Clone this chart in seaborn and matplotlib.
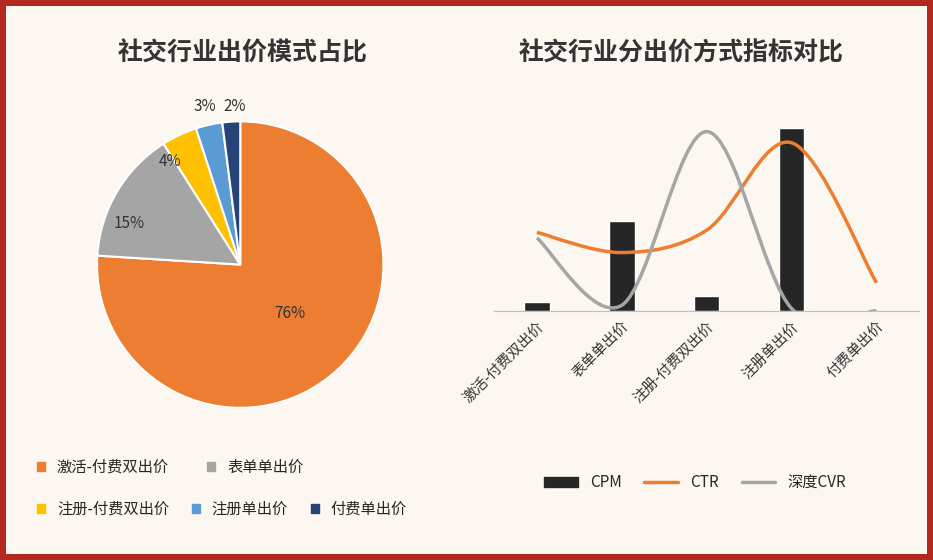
import matplotlib
matplotlib.use("Agg")
import matplotlib.pyplot as plt
import seaborn as sns
import numpy as np
from matplotlib.path import Path
from matplotlib.patches import PathPatch, Rectangle
from matplotlib.lines import Line2D

sns.set_style("white")
plt.rcParams["font.family"] = ["Noto Sans CJK SC", "DejaVu Sans"]

pie_labels = ["激活-付费双出价", "表单单出价", "注册-付费双出价", "注册单出价", "付费单出价"]
pie_values = [76, 15, 4, 3, 2]
pie_colors = ["#ED7D31", "#A5A5A5", "#FFC000", "#5B9BD5", "#264478"]

categories = ["激活-付费双出价", "表单单出价", "注册-付费双出价", "注册单出价", "付费单出价"]
cpm = [8, 80, 13, 163, 0]
ctr = [70, 52, 72, 150, 25]
cvr = [65, 5, 160, 2, 0]

bg = "#FCF7F0"
fig = plt.figure(figsize=(9.33, 5.6), dpi=100, facecolor="#B22A1E")
fig.patches.append(Rectangle((0.006, 0.01), 0.988, 0.98, transform=fig.transFigure,
                             facecolor=bg, edgecolor="none", zorder=-1))

# pie
ax1 = fig.add_axes([0.085, 0.255, 0.345, 0.545])
ax1.set_facecolor(bg)
wedges, texts = ax1.pie(pie_values, colors=pie_colors, startangle=90, counterclock=False, radius=1.22,
                        wedgeprops=dict(edgecolor="white", linewidth=1.5))
pos = {0: (0.42, -0.42), 1: (-0.95, 0.35), 2: (-0.6, 0.88), 3: (-0.3, 1.35), 4: (-0.05, 1.35)}
for i, v in enumerate(pie_values):
    ax1.text(*pos[i], f"{v}%", ha="center", va="center", fontsize=11, color="#333333")
ax1.set_xlim(-1.3, 1.3)
ax1.set_ylim(-1.3, 1.3)
ax1.set_aspect("equal")
fig.text(0.26, 0.905, "社交行业出价模式占比", ha="center", va="center", fontsize=18, fontweight="bold", color="#333333")
handles = [Rectangle((0, 0), 1, 1, color=c) for c in pie_colors]
fig.legend(handles[:2], pie_labels[:2], loc="center left", bbox_to_anchor=(0.025, 0.165), ncol=2,
           frameon=False, fontsize=11, handlelength=0.5, handleheight=0.5, columnspacing=2.5)
fig.legend(handles[2:], pie_labels[2:], loc="center left", bbox_to_anchor=(0.025, 0.09), ncol=3,
           frameon=False, fontsize=11, handlelength=0.5, handleheight=0.5, columnspacing=1.5)

# combo chart
ax2 = fig.add_axes([0.53, 0.445, 0.455, 0.36])
ax2.set_facecolor(bg)
x = np.arange(len(categories))
sns.barplot(x=categories, y=cpm, color="#262626", width=0.3, ax=ax2, saturation=1)

def smooth(ax, xs, ys, color, lw):
    pts = np.column_stack([xs, ys]).astype(float)
    verts = [pts[0]]
    codes = [Path.MOVETO]
    n = len(pts)
    for i in range(n - 1):
        p0 = pts[max(i - 1, 0)]; p1 = pts[i]; p2 = pts[i + 1]; p3 = pts[min(i + 2, n - 1)]
        c1 = p1 + (p2 - p0) / 6
        c2 = p2 - (p3 - p1) / 6
        verts += [c1, c2, p2]
        codes += [Path.CURVE4] * 3
    ax.add_patch(PathPatch(Path(verts, codes), facecolor="none", edgecolor=color, lw=lw))

smooth(ax2, x, ctr, "#ED7D31", 2.5)
smooth(ax2, x, cvr, "#A5A5A5", 2.5)
ax2.set_xlim(-0.5, 4.5)
ax2.set_ylim(0, 180)
ax2.set_yticks([])
sns.despine(ax=ax2, left=True, top=True, right=True)
ax2.spines["bottom"].set_color("#BFBFBF")
ax2.set_xticks(x)
ax2.set_xticklabels(categories, rotation=45, ha="right", rotation_mode="anchor", fontsize=10.5, color="#333333")
ax2.tick_params(axis="x", length=0, pad=6)
fig.text(0.73, 0.905, "社交行业分出价方式指标对比", ha="center", va="center", fontsize=18, fontweight="bold", color="#333333")
lh = [Rectangle((0, 0), 1, 1, color="#262626"),
      Line2D([0], [0], color="#ED7D31", lw=2.5), Line2D([0], [0], color="#A5A5A5", lw=2.5)]
fig.legend(lh, ["CPM", "CTR", "深度CVR"], loc="center", bbox_to_anchor=(0.745, 0.138), ncol=3,
           frameon=False, fontsize=11, handlelength=2.2, handleheight=0.7, columnspacing=1.5)

fig.savefig("out.png", dpi=100, facecolor=fig.get_facecolor())
